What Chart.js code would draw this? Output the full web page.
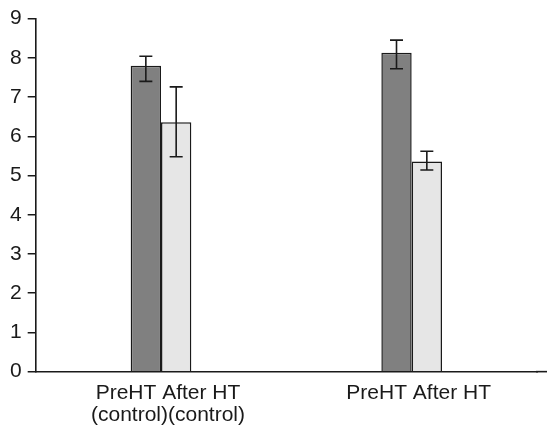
<!DOCTYPE html>
<html>
<head>
<meta charset="utf-8">
<script src="https://cdn.jsdelivr.net/npm/chart.js@4/dist/chart.umd.min.js"></script>
<style>
  body { margin: 0; background: #fff; }
  canvas { display: block; }
</style>
</head>
<body>
<canvas id="chart" width="547" height="430"></canvas>
<script>
// groups on the x axis (two lines each)
const groupLabels = [
  ["PreHT After HT", "(control)(control)"],
  ["PreHT After HT"],
];

// bar means
const preHT = [7.8, 8.13];
const afterHT = [6.36, 5.36];

// error bar ends (upper / lower)
const preHTHigh = [8.04, 8.45];
const preHTLow = [7.4, 7.72];
const afterHTHigh = [7.26, 5.62];
const afterHTLow = [5.48, 5.14];

const yTicks = [0, 1, 2, 3, 4, 5, 6, 7, 8, 9];

const FONT = "'Liberation Sans', Arial, sans-serif";

// draws the error bars on top of each bar
const errorBars = {
  id: "errorBars",
  afterDatasetsDraw(chart) {
    const ctx = chart.ctx;
    const y = chart.scales.y;
    chart.data.datasets.forEach((ds, di) => {
      const meta = chart.getDatasetMeta(di);
      meta.data.forEach((bar, i) => {
        const top = y.getPixelForValue(ds.errHigh[i]);
        const bottom = y.getPixelForValue(ds.errLow[i]);
        ctx.save();
        ctx.strokeStyle = "#1a1a1a";
        ctx.lineWidth = 1.6;
        ctx.beginPath();
        ctx.moveTo(bar.x, top);
        ctx.lineTo(bar.x, bottom);
        ctx.moveTo(bar.x - 6.5, top);
        ctx.lineTo(bar.x + 6.5, top);
        ctx.moveTo(bar.x - 6.5, bottom);
        ctx.lineTo(bar.x + 6.5, bottom);
        ctx.stroke();
        ctx.restore();
      });
    });
  },
  // x axis line runs to the right edge
  afterDraw(chart) {
    const ctx = chart.ctx;
    const area = chart.chartArea;
    ctx.save();
    ctx.strokeStyle = "#1a1a1a";
    ctx.lineWidth = 1.6;
    ctx.beginPath();
    ctx.moveTo(area.right - 1, area.bottom);
    ctx.lineTo(chart.width, area.bottom);
    ctx.stroke();
    ctx.restore();
  },
};

new Chart(document.getElementById("chart"), {
  type: "bar",
  data: {
    labels: groupLabels,
    datasets: [
      {
        label: "PreHT",
        data: preHT,
        errHigh: preHTHigh,
        errLow: preHTLow,
        backgroundColor: "#808080",
        borderColor: "#1a1a1a",
        borderWidth: 1.5,
      },
      {
        label: "After HT",
        data: afterHT,
        errHigh: afterHTHigh,
        errLow: afterHTLow,
        backgroundColor: "#e6e6e6",
        borderColor: "#1a1a1a",
        borderWidth: 1.5,
      },
    ],
  },
  options: {
    responsive: false,
    animation: false,
    categoryPercentage: 0.242,
    barPercentage: 1,
    layout: { padding: { left: 4, right: 10, top: 8, bottom: -7 } },
    plugins: {
      legend: { display: false },
      tooltip: { enabled: false },
    },
    scales: {
      x: {
        grid: { display: false, drawTicks: false },
        border: { color: "#1a1a1a", width: 1.6 },
        ticks: {
          color: "#1a1a1a",
          padding: 10,
          labelOffset: 7,
          maxRotation: 0,
          font: { family: FONT, size: 21, lineHeight: 1.08 },
        },
      },
      y: {
        min: 0,
        max: 9,
        afterBuildTicks: (axis) => {
          axis.ticks = yTicks.map((v) => ({ value: v }));
        },
        grid: {
          drawOnChartArea: false,
          tickLength: 8,
          color: "#1a1a1a",
          lineWidth: 1.5,
        },
        border: { color: "#1a1a1a", width: 1.6 },
        ticks: {
          color: "#1a1a1a",
          padding: 6,
          font: { family: FONT, size: 21 },
        },
      },
    },
  },
  plugins: [errorBars],
});
</script>
</body>
</html>
